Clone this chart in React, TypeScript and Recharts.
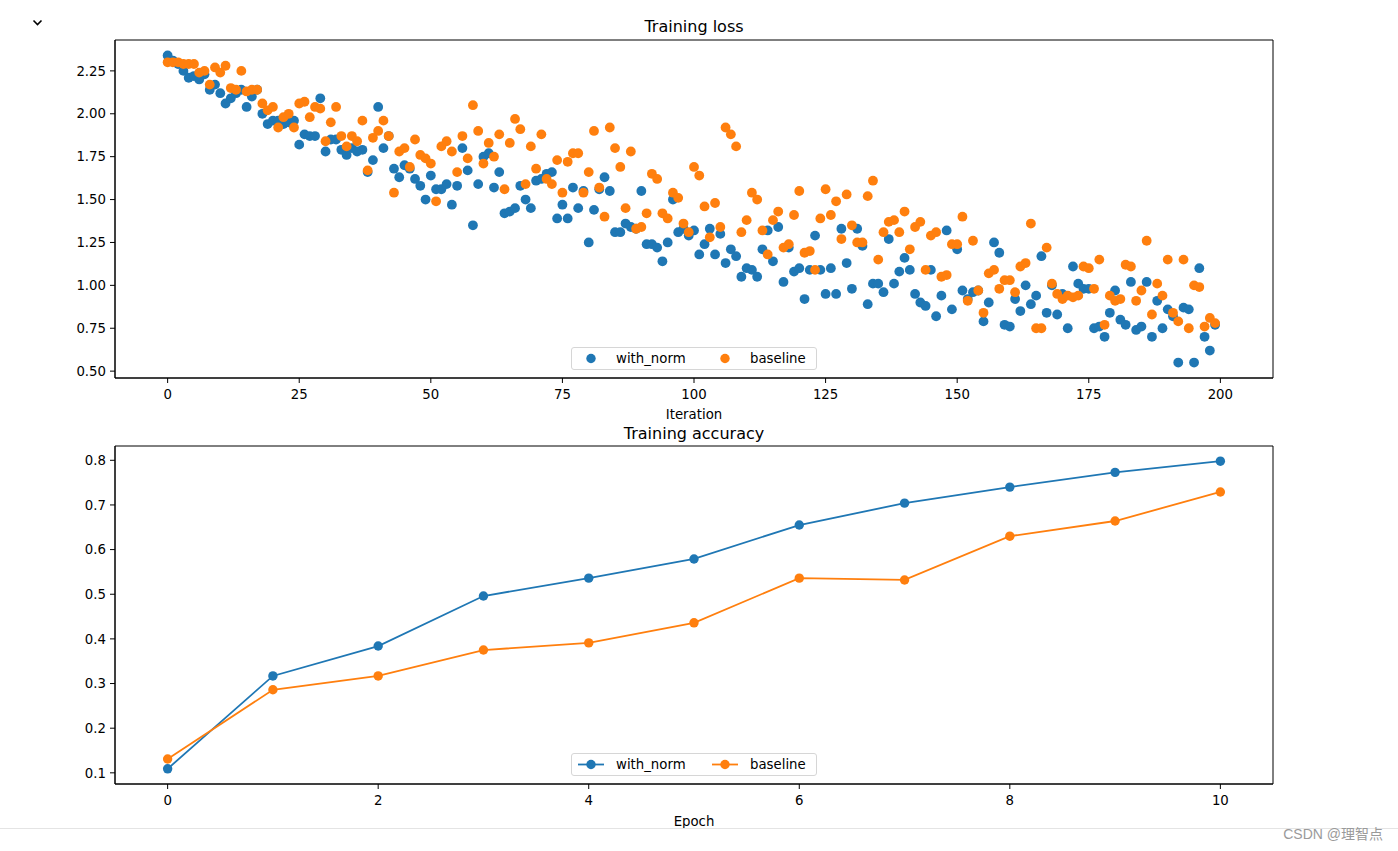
import React from 'react';
import {
  ScatterChart,
  Scatter,
  LineChart,
  Line,
  XAxis,
  YAxis,
  ReferenceArea,
  Legend,
} from 'recharts';

const BLUE = '#1f77b4';
const ORANGE = '#ff7f0e';
const FONT = "'DejaVu Sans', sans-serif";

// loss per iteration (0..199)
const withNormLoss = [
  2.34, 2.31, 2.29, 2.25, 2.21, 2.22, 2.2, 2.23, 2.14, 2.17,
  2.12, 2.06, 2.09, 2.12, 2.14, 2.04, 2.1, 2.14, 2.0, 1.94,
  1.96, 1.96, 1.94, 1.95, 1.96, 1.82, 1.88, 1.87, 1.87, 2.09,
  1.78, 1.85, 1.85, 1.79, 1.76, 1.8, 1.78, 1.79, 1.66, 1.73,
  2.04, 1.8, 1.87, 1.68, 1.63, 1.7, 1.68, 1.62, 1.58, 1.5,
  1.64, 1.56, 1.56, 1.59, 1.47, 1.58, 1.8, 1.67, 1.35, 1.59,
  1.75, 1.77, 1.57, 1.66, 1.42, 1.43, 1.45, 1.58, 1.5, 1.45,
  1.61, 1.62, 1.65, 1.66, 1.39, 1.47, 1.39, 1.57, 1.45, 1.55,
  1.25, 1.44, 1.56, 1.63, 1.55, 1.31, 1.31, 1.36, 1.34, 1.33,
  1.55, 1.24, 1.24, 1.22, 1.14, 1.25, 1.5, 1.31, 1.33, 1.29,
  1.32, 1.18, 1.24, 1.33, 1.18, 1.3, 1.13, 1.21, 1.17, 1.05,
  1.1, 1.09, 1.05, 1.21, 1.32, 1.14, 1.34, 1.02, 1.22, 1.08,
  1.1, 0.92, 1.09, 1.29, 1.09, 0.95, 1.1, 0.95, 1.33, 1.13,
  0.98, 1.33, 1.23, 0.89, 1.01, 1.01, 0.96, 1.27, 1.01, 1.08,
  1.16, 1.09, 0.95, 0.9, 0.88, 1.09, 0.82, 0.94, 1.32, 0.86,
  1.21, 0.97, 0.92, 0.96, 0.97, 0.79, 0.9, 1.25, 1.19, 0.77,
  0.76, 0.92, 0.85, 1.0, 0.89, 0.94, 1.17, 0.84, 1.0, 0.83,
  0.95, 0.75, 1.11, 1.01, 0.98, 0.98, 0.75, 0.76, 0.7, 0.84,
  0.97, 0.8, 0.77, 1.02, 0.74, 0.76, 1.02, 0.7, 0.91, 0.75,
  0.86, 0.82, 0.55, 0.87, 0.86, 0.55, 1.1, 0.7, 0.62, 0.77,
];

const baselineLoss = [
  2.3, 2.3, 2.3, 2.29, 2.29, 2.29, 2.24, 2.25, 2.17, 2.27,
  2.24, 2.28, 2.15, 2.14, 2.25, 2.13, 2.14, 2.14, 2.06, 2.02,
  2.04, 1.92, 1.98, 2.0, 1.92, 2.06, 2.07, 1.98, 2.04, 2.03,
  1.84, 1.95, 2.04, 1.87, 1.81, 1.87, 1.84, 1.96, 1.67, 1.86,
  1.9, 1.96, 1.87, 1.54, 1.78, 1.8, 1.69, 1.85, 1.76, 1.74,
  1.71, 1.49, 1.81, 1.84, 1.78, 1.66, 1.87, 1.74, 2.05, 1.9,
  1.71, 1.83, 1.75, 1.88, 1.56, 1.83, 1.97, 1.91, 1.59, 1.81,
  1.68, 1.88, 1.62, 1.59, 1.73, 1.54, 1.72, 1.77, 1.77, 1.54,
  1.66, 1.9, 1.57, 1.4, 1.92, 1.8, 1.69, 1.45, 1.78, 1.33,
  1.34, 1.42, 1.65, 1.62, 1.42, 1.39, 1.54, 1.51, 1.36, 1.31,
  1.69, 1.64, 1.46, 1.28, 1.48, 1.34, 1.92, 1.88, 1.81, 1.31,
  1.38, 1.54, 1.5, 1.32, 1.18, 1.38, 1.43, 1.22, 1.24, 1.41,
  1.55, 1.19, 1.2, 1.09, 1.39, 1.56, 1.41, 1.49, 1.27, 1.53,
  1.35, 1.25, 1.25, 1.52, 1.61, 1.15, 1.31, 1.37, 1.38, 1.31,
  1.43, 1.21, 1.34, 1.37, 1.09, 1.29, 1.31, 1.05, 1.06, 1.24,
  1.24, 1.4, 0.91, 1.26, 0.97, 0.84, 1.07, 1.09, 0.98, 1.03,
  1.03, 0.96, 1.11, 1.13, 1.36, 0.75, 0.75, 1.22, 1.01, 0.95,
  0.92, 0.94, 0.93, 0.94, 1.11, 1.1, 0.98, 1.15, 0.77, 0.94,
  0.91, 0.92, 1.12, 1.11, 0.91, 0.97, 1.26, 0.83, 1.01, 0.94,
  1.15, 0.84, 0.79, 1.15, 0.75, 1.0, 0.99, 0.76, 0.81, 0.78,
];

const epochs = [0, 1, 2, 3, 4, 5, 6, 7, 8, 9, 10];
const withNormAcc = [0.109, 0.317, 0.384, 0.496, 0.536, 0.579, 0.655, 0.704, 0.74, 0.773, 0.798];
const baselineAcc = [0.131, 0.286, 0.317, 0.375, 0.391, 0.436, 0.536, 0.532, 0.63, 0.664, 0.729];

const lossTicksX = [0, 25, 50, 75, 100, 125, 150, 175, 200];
const lossTicksY = [0.5, 0.75, 1.0, 1.25, 1.5, 1.75, 2.0, 2.25];
const accTicksX = [0, 2, 4, 6, 8, 10];
const accTicksY = [0.1, 0.2, 0.3, 0.4, 0.5, 0.6, 0.7, 0.8];

const LOSS_X = [-10, 210];
const LOSS_Y = [0.46, 2.43];
const ACC_X = [-0.5, 10.5];
const ACC_Y = [0.075, 0.832];

const withNormPts = withNormLoss.map((v, i) => ({ x: i, y: v }));
const baselinePts = baselineLoss.map((v, i) => ({ x: i, y: v }));
const accData = epochs.map((e, i) => ({ epoch: e, withNorm: withNormAcc[i], baseline: baselineAcc[i] }));

const tickStyle = { fill: '#000', fontSize: 13.3, fontFamily: FONT };

const dotShape = (color: string) => (p: any) =>
  <circle cx={p.cx} cy={p.cy} r={4.9} fill={color} />;

function LegendBox({ lines }: { lines: boolean }) {
  const items = [
    { color: BLUE, label: 'with_norm', cx: 19 },
    { color: ORANGE, label: 'baseline', cx: 153 },
  ];
  return (
    <div
      style={{
        width: 246,
        height: 23,
        border: '1px solid #d6d6d6',
        borderRadius: 3,
        background: 'rgba(255,255,255,0.8)',
        boxSizing: 'border-box',
      }}
    >
      <svg width={244} height={21} style={{ display: 'block' }}>
        {items.map((it) => (
          <g key={it.label}>
            {lines && (
              <line x1={it.cx - 13} x2={it.cx + 13} y1={10.5} y2={10.5} stroke={it.color} strokeWidth={1.8} />
            )}
            <circle cx={it.cx} cy={10.5} r={4.7} fill={it.color} />
            <text x={it.cx + 25} y={15} fontSize={13.3} fontFamily={FONT} fill="#000">
              {it.label}
            </text>
          </g>
        ))}
      </svg>
    </div>
  );
}

const titleStyle: React.CSSProperties = {
  position: 'absolute',
  left: 115,
  width: 1158,
  textAlign: 'center',
  fontSize: 16,
  lineHeight: '18px',
  fontFamily: FONT,
  color: '#000',
};

export default function App() {
  return (
    <div style={{ position: 'absolute', left: 0, top: 0, width: 1398, height: 851, background: '#fff', overflow: 'hidden' }}>
      <svg width={12} height={8} style={{ position: 'absolute', left: 32, top: 19 }}>
        <polyline points="1.5,1.5 5.5,5.5 9.5,1.5" fill="none" stroke="#000" strokeWidth={1.6} />
      </svg>

      <div style={{ position: 'absolute', left: 0, top: 0 }}>
        <ScatterChart width={1398} height={430} margin={{ top: 40, right: 125, bottom: 10, left: 0 }}>
          <XAxis
            type="number"
            dataKey="x"
            domain={LOSS_X}
            ticks={lossTicksX}
            interval={0}
            height={42}
            stroke="#000"
            tick={tickStyle}
            tickSize={5}
            tickMargin={7}
            label={{ value: 'Iteration', position: 'insideBottom', offset: 1, fill: '#000', fontSize: 13.3, fontFamily: FONT }}
          />
          <YAxis
            type="number"
            dataKey="y"
            domain={LOSS_Y}
            ticks={lossTicksY}
            interval={0}
            width={115}
            stroke="#000"
            tick={tickStyle}
            tickSize={5}
            tickMargin={4}
            tickFormatter={(v: number) => v.toFixed(2)}
          />
          <ReferenceArea x1={LOSS_X[0]} x2={LOSS_X[1]} y1={LOSS_Y[0]} y2={LOSS_Y[1]} fill="none" stroke="#000" strokeOpacity={1} strokeWidth={1} />
          <Scatter data={withNormPts} fill={BLUE} shape={dotShape(BLUE)} isAnimationActive={false} />
          <Scatter data={baselinePts} fill={ORANGE} shape={dotShape(ORANGE)} isAnimationActive={false} />
          <Legend
            layout="horizontal"
            verticalAlign="middle"
            align="center"
            wrapperStyle={{ top: 347, left: 571, width: 246, height: 23 }}
            content={() => <LegendBox lines={false} />}
          />
        </ScatterChart>
      </div>

      <div style={{ position: 'absolute', left: 0, top: 420 }}>
        <LineChart width={1398} height={420} data={accData} margin={{ top: 26, right: 125, bottom: 10, left: 0 }}>
          <XAxis
            type="number"
            dataKey="epoch"
            domain={ACC_X}
            ticks={accTicksX}
            interval={0}
            height={46}
            stroke="#000"
            tick={tickStyle}
            tickSize={5}
            tickMargin={7}
            label={{ value: 'Epoch', position: 'insideBottom', offset: 4, fill: '#000', fontSize: 13.3, fontFamily: FONT }}
          />
          <YAxis
            type="number"
            domain={ACC_Y}
            ticks={accTicksY}
            interval={0}
            width={115}
            stroke="#000"
            tick={tickStyle}
            tickSize={5}
            tickMargin={4}
            tickFormatter={(v: number) => v.toFixed(1)}
          />
          <ReferenceArea x1={ACC_X[0]} x2={ACC_X[1]} y1={ACC_Y[0]} y2={ACC_Y[1]} fill="none" stroke="#000" strokeOpacity={1} strokeWidth={1} />
          <Line
            dataKey="withNorm"
            stroke={BLUE}
            strokeWidth={1.8}
            dot={{ r: 4.7, fill: BLUE, stroke: BLUE, strokeWidth: 0 }}
            activeDot={false}
            isAnimationActive={false}
          />
          <Line
            dataKey="baseline"
            stroke={ORANGE}
            strokeWidth={1.8}
            dot={{ r: 4.7, fill: ORANGE, stroke: ORANGE, strokeWidth: 0 }}
            activeDot={false}
            isAnimationActive={false}
          />
          <Legend
            layout="horizontal"
            verticalAlign="middle"
            align="center"
            wrapperStyle={{ top: 333, left: 571, width: 246, height: 23 }}
            content={() => <LegendBox lines={true} />}
          />
        </LineChart>
      </div>

      <div style={{ ...titleStyle, top: 18 }}>Training loss</div>
      <div style={{ ...titleStyle, top: 425 }}>Training accuracy</div>

      <div style={{ position: 'absolute', left: 0, top: 828, width: 1398, height: 1, background: '#e4e4e4' }} />
      <div
        style={{
          position: 'absolute',
          right: 15,
          top: 825,
          fontSize: 14,
          lineHeight: '18px',
          color: '#9a9a9a',
          fontFamily: "Arial, 'Liberation Sans', 'Noto Sans CJK SC', sans-serif",
        }}
      >
        CSDN @理智点
      </div>
    </div>
  );
}
